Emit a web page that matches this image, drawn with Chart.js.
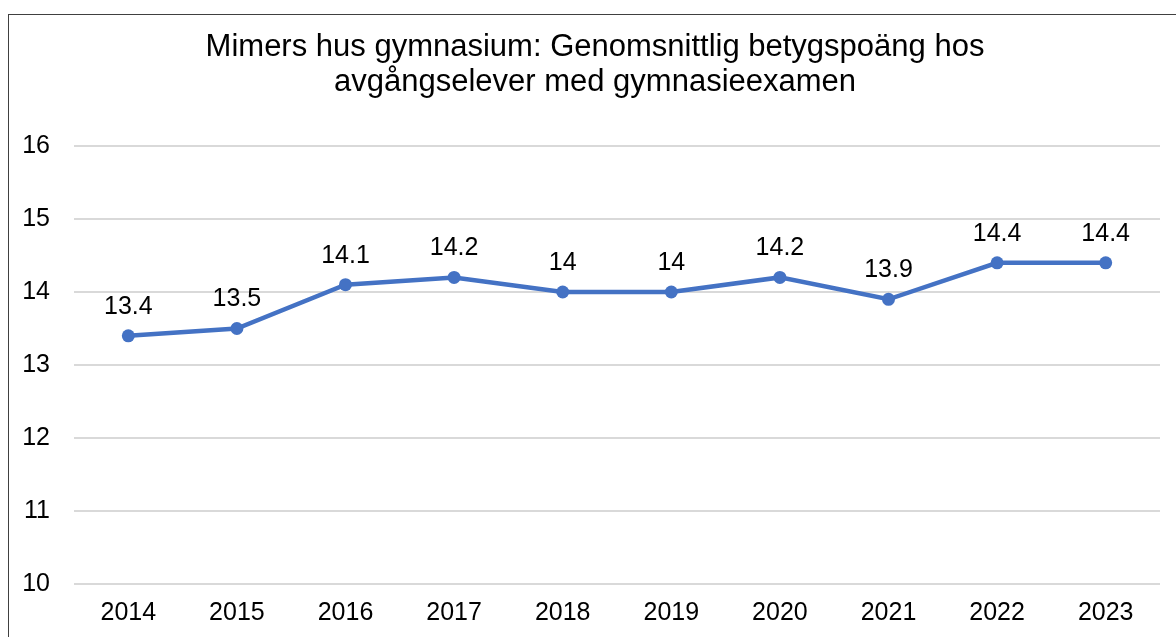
<!DOCTYPE html>
<html>
<head>
<meta charset="utf-8">
<script src="https://cdn.jsdelivr.net/npm/chart.js@4/dist/chart.umd.min.js"></script>
<style>
  body { margin: 0; background: #fff; overflow: hidden; }
  #frame { position: absolute; left: 8px; top: 14px; width: 1180px; height: 660px; border: 1.5px solid #404040; box-sizing: border-box; }
  #wrap { position: absolute; left: 0; top: 0; width: 1176px; height: 652px; }
</style>
</head>
<body>
<div id="frame"></div>
<div id="wrap"><canvas id="chart" width="1176" height="652"></canvas></div>
<script>
const years = ['2014', '2015', '2016', '2017', '2018', '2019', '2020', '2021', '2022', '2023'];
const gradePoints = [13.4, 13.5, 14.1, 14.2, 14, 14, 14.2, 13.9, 14.4, 14.4];
const titleLines = ['Mimers hus gymnasium: Genomsnittlig betygspoäng hos', 'avgångselever med gymnasieexamen'];

const FONT = '"Liberation Sans", Arial, sans-serif';

// value labels above each point
const valueLabels = {
  id: 'valueLabels',
  afterDatasetsDraw(chart) {
    const { ctx } = chart;
    const meta = chart.getDatasetMeta(0);
    ctx.save();
    ctx.font = '25px ' + FONT;
    ctx.fillStyle = '#000';
    ctx.textAlign = 'center';
    ctx.textBaseline = 'middle';
    meta.data.forEach((pt, i) => {
      ctx.fillText(String(gradePoints[i]), pt.x, pt.y - 29);
    });
    ctx.restore();
  }
};

// title centred on the frame rather than the canvas
const frameTitle = {
  id: 'frameTitle',
  afterDraw(chart) {
    const { ctx } = chart;
    ctx.save();
    ctx.font = '31px ' + FONT;
    ctx.fillStyle = '#000';
    ctx.textAlign = 'center';
    ctx.textBaseline = 'middle';
    titleLines.forEach((line, i) => ctx.fillText(line, 595, 47 + i * 35));
    ctx.restore();
  }
};

const ctx = document.getElementById('chart').getContext('2d');
const chart = new Chart(ctx, {
  type: 'line',
  data: {
    labels: years,
    datasets: [{
      data: gradePoints,
      borderColor: '#4472C4',
      backgroundColor: '#4472C4',
      borderWidth: 4.5,
      pointRadius: 6.5,
      pointBorderWidth: 0,
      tension: 0
    }]
  },
  options: {
    responsive: false,
    animation: false,
    layout: { padding: { left: 0, right: 16, top: 146, bottom: 10 } },
    plugins: {
      legend: { display: false },
      tooltip: { enabled: false },
      title: { display: false }
    },
    scales: {
      x: {
        offset: true,
        grid: { display: false, drawTicks: false },
        border: { display: false },
        ticks: { color: '#000', font: { family: FONT, size: 25 }, padding: 14, maxRotation: 0 }
      },
      y: {
        min: 10,
        max: 16,
        afterFit(scale) { scale.width = 74; },
        grid: { color: '#d9d9d9', lineWidth: 2, drawTicks: false },
        border: { display: false },
        ticks: { stepSize: 1, color: '#000', font: { family: FONT, size: 25 }, padding: 24 }
      }
    }
  },
  plugins: [valueLabels, frameTitle]
});
</script>
</body>
</html>
